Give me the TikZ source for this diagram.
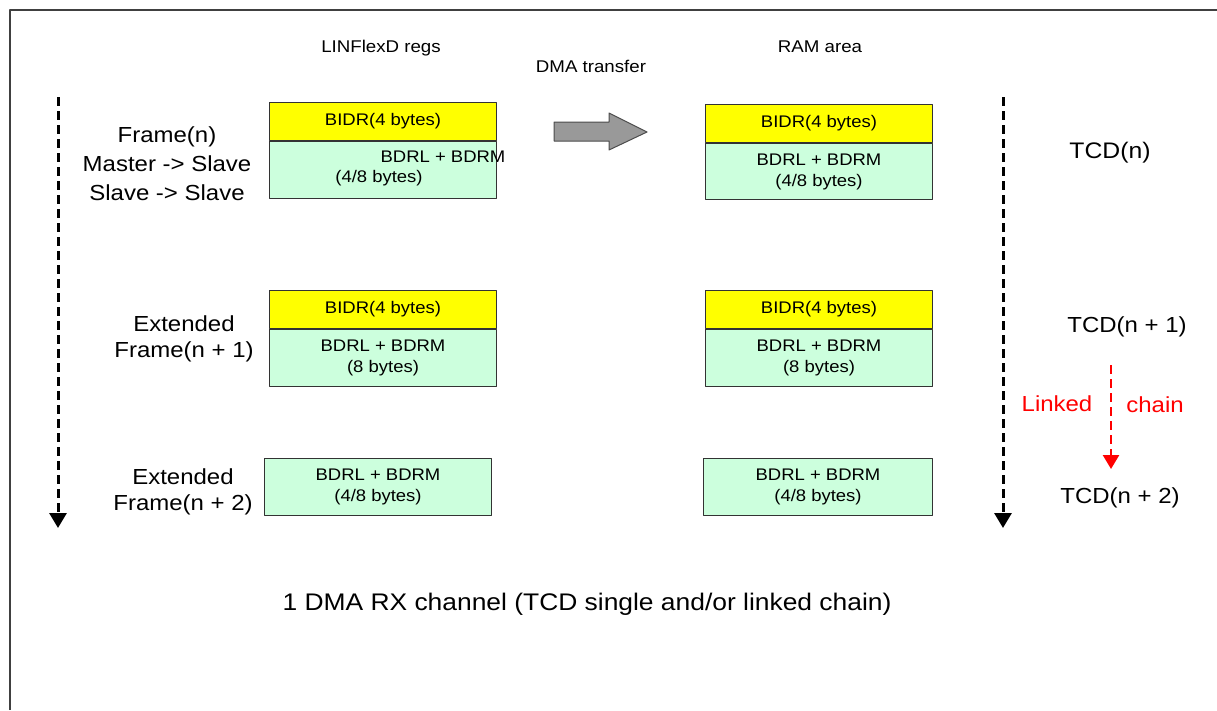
\documentclass[tikz,border=0pt]{standalone}
\usepackage{fontspec}
\setmainfont[FakeStretch=1.1]{Liberation Sans}
\usetikzlibrary{arrows.meta,positioning}
\definecolor{regyellow}{RGB}{255,255,0}
\definecolor{regmint}{RGB}{204,255,221}
\definecolor{dmagray}{RGB}{153,153,153}
\definecolor{linkred}{RGB}{255,0,0}
\tikzset{
	bidr/.style={draw=black!80, line width=1pt, fill=regyellow, minimum width=227pt, minimum height=38pt, anchor=north west, inner sep=0pt, align=center, font=\fontsize{16.8}{21}\selectfont},
	bdr/.style={bidr, fill=regmint, minimum height=57pt},
	lbl/.style={inner sep=0pt, align=center, font=\fontsize{21.8}{26}\selectfont},
	hdr/.style={inner sep=0pt, font=\fontsize{17}{20}\selectfont},
	flow/.style={line width=3pt, dash pattern=on 9pt off 5pt, -{Triangle[width=17pt,length=15pt]}},
}
\begin{document}
\begin{tikzpicture}[x=1pt,y=-1pt, line join=round]
	\useasboundingbox (0,0) rectangle (1217,710);
	\draw[line width=1.4pt, black!75] (10,710) -- (10,10) -- (1217,10);
	\path
	(58,97) coordinate (ltop)
	(58,528) coordinate (lend)
	(1003,97) coordinate (rtop)
	(1003,528) coordinate (rend)
	(1111,365) coordinate (ktop)
	(1111,469) coordinate (kend)
	;
	% headers
	\node[hdr] (regs) at (381,48) {LINFlexD regs};
	\node[hdr] (ram) at (820,47) {RAM area};
	\node[hdr] (xfer) at (591,66) {DMA transfer};
	% frame labels
	\node[lbl, font=\fontsize{21.8}{29}\selectfont] (fr0) at (167,164) {Frame(n)\\Master -> Slave\\Slave -> Slave};
	\node[lbl] (fr1) at (184,339) {Extended\\Frame(n + 1)};
	\node[lbl] (fr2) at (183,492) {Extended\\Frame(n + 2)};
	% LINFlexD registers
	\node[bidr] (l1y) at (269,102) {BIDR(4 bytes)};
	\node[bdr, below=0pt of l1y] (l1g) {};
	\node[inner sep=0pt, font=\fontsize{16.8}{21}\selectfont] at (443,157) {BDRL + BDRM};
	\node[inner sep=0pt, font=\fontsize{16.8}{21}\selectfont] at (379,178) {(4/8 bytes)};
	\node[bidr] (l2y) at (269,290) {BIDR(4 bytes)};
	\node[bdr, below=0pt of l2y] (l2g) {BDRL + BDRM\\(8 bytes)};
	\node[bdr] (l3g) at (264,458) {BDRL + BDRM\\(4/8 bytes)};
	% RAM area
	\node[bidr] (r1y) at (705,104) {BIDR(4 bytes)};
	\node[bdr, below=0pt of r1y, minimum height=56pt] (r1g) {BDRL + BDRM\\(4/8 bytes)};
	\node[bidr] (r2y) at (705,290) {BIDR(4 bytes)};
	\node[bdr, below=0pt of r2y] (r2g) {BDRL + BDRM\\(8 bytes)};
	\node[bdr, minimum width=229pt] (r3g) at (703,458) {BDRL + BDRM\\(4/8 bytes)};
	% DMA arrow
	\draw[fill=dmagray, draw=black!70, line width=1pt]
	(554,122) -- (609,122) -- (609,113) -- (647,132) -- (609,150) -- (609,141) -- (554,141) -- cycle;
	% TCDs
	\node[lbl, font=\fontsize{22.5}{26}\selectfont] (tcd0) at (1110,153) {TCD(n)};
	\node[lbl] (tcd1) at (1127,327) {TCD(n + 1)};
	\node[lbl] (tcd2) at (1120,498) {TCD(n + 2)};
	\node[lbl, text=linkred] (lnk) at (1057,404) {Linked};
	\node[lbl, text=linkred] (chn) at (1155,405) {chain};
	\draw[flow, line width=2.5pt, linkred, -{Triangle[width=16pt,length=14pt]}] (ktop) -- (kend);
	% time axes
	\draw[flow] (ltop) -- (lend);
	\draw[flow] (rtop) -- (rend);
	\node[lbl, font=\fontsize{24}{28}\selectfont] (cap) at (587,604) {1 DMA RX channel (TCD single and/or linked chain)};
\end{tikzpicture}
\end{document}
